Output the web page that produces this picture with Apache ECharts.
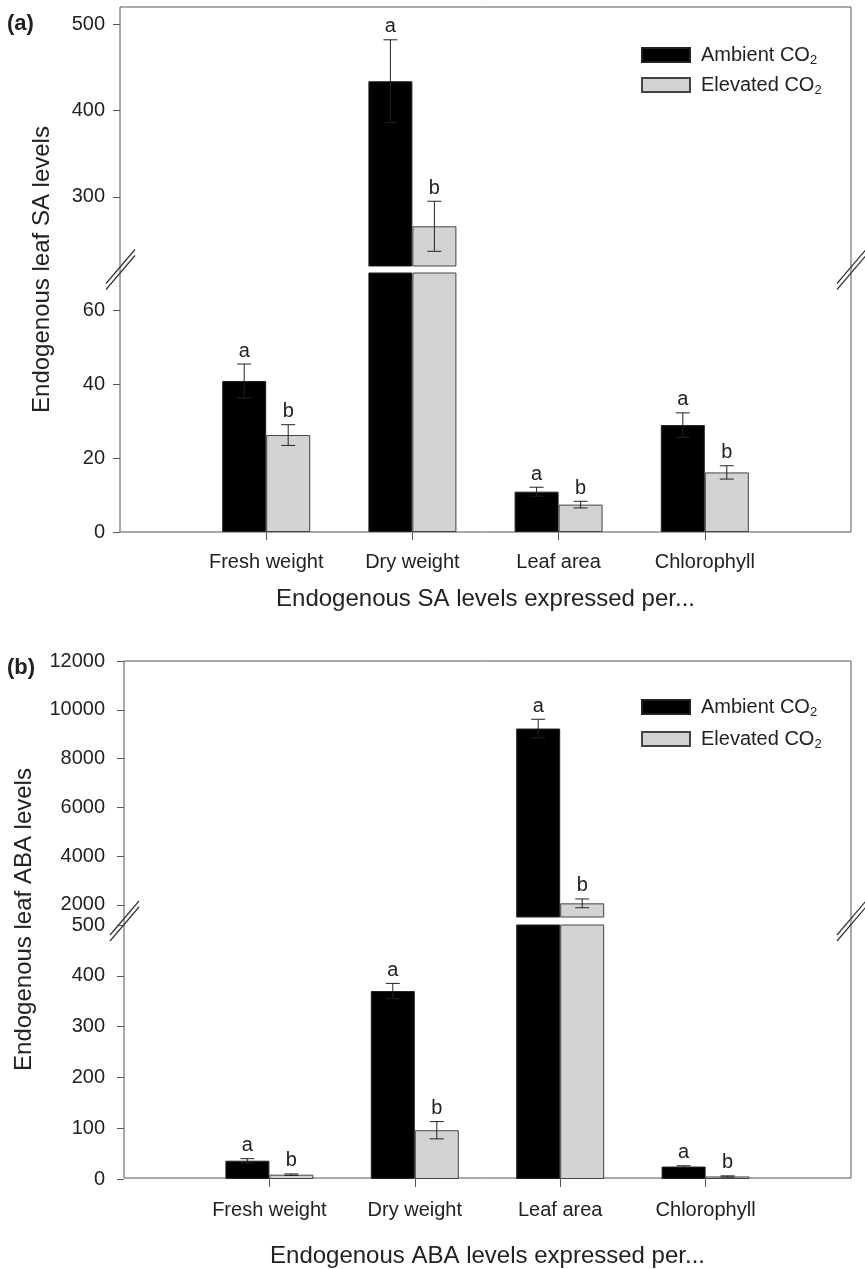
<!DOCTYPE html>
<html>
<head>
<meta charset="utf-8">
<script src="https://cdn.jsdelivr.net/npm/echarts@6/dist/echarts.min.js"></script>
<style>
  html, body { margin: 0; padding: 0; background: #fff; }
  #chart { width: 865px; height: 1269px; }
</style>
</head>
<body>
<div id="chart"></div>
<script>
// categories on the x axis (blank slots at both ends give the side padding)
const categories = ['Fresh weight', 'Dry weight', 'Leaf area', 'Chlorophyll'];
const xCats = [''].concat(categories, ['']);
const seriesNames = ['Ambient CO2', 'Elevated CO2'];

// (a) endogenous SA
const saAmbient = [40.8, 434, 10.9, 28.9];
const saAmbientErr = [4.6, 48, 1.2, 3.3];
const saElevated = [26.2, 266, 7.4, 16.1];
const saElevatedErr = [2.8, 29, 0.9, 1.8];

// (b) endogenous ABA
const abaAmbient = [36, 370, 9230, 24.5];
const abaAmbientErr = [4, 15, 380, 1.5];
const abaElevated = [8.5, 96, 2060, 5];
const abaElevatedErr = [1.5, 17, 180, 1.2];

// significance letters
const lettersAmbient = ['a', 'a', 'a', 'a'];
const lettersElevated = ['b', 'b', 'b', 'b'];

// y ticks of the broken axes
const saUpperTicks = [300, 400, 500];
const saLowerTicks = [0, 20, 40, 60];
const abaUpperTicks = [2000, 4000, 6000, 8000, 10000, 12000];
const abaLowerTicks = [0, 100, 200, 300, 400, 500];

const FONT = '"Liberation Sans", Arial, Helvetica, sans-serif';
const TXT = '#222';
const FRAME = '#555';
const BAR_W = 44;

const chart = echarts.init(document.getElementById('chart'));

const grid = [], xAxis = [], yAxis = [], series = [], graphic = [];

function padded(arr, keep) {
    return ['-'].concat(arr.map(v => keep(v) ? v : '-'), ['-']);
}

function errRender(values, errs, letters, offset) {
    return function (params, api) {
        const i = api.value(0);
        const k = i - 1;
        const v = values[k], e = errs[k];
        const top = api.coord([i, v + e]);
        const bot = api.coord([i, v - e]);
        const cx = top[0] + offset;
        const ls = { stroke: '#222', lineWidth: 1 };
        return {
            type: 'group',
            children: [
                { type: 'line', shape: { x1: cx, y1: top[1], x2: cx, y2: bot[1] }, style: ls },
                { type: 'line', shape: { x1: cx - 7, y1: top[1], x2: cx + 7, y2: top[1] }, style: ls },
                { type: 'line', shape: { x1: cx - 7, y1: bot[1], x2: cx + 7, y2: bot[1] }, style: ls },
                { type: 'text', style: { text: letters[k], x: cx, y: top[1] - 3, align: 'center', verticalAlign: 'bottom',
                    fontSize: 20, fontFamily: FONT, fill: TXT } }
            ]
        };
    };
}

function addPanel(p) {
    const g0 = grid.length;
    // frame grid: box + axis titles
    grid.push({ left: p.left, right: 14, top: p.top, height: p.bottom - p.top, show: true,
        borderColor: FRAME, borderWidth: 1, backgroundColor: 'transparent' });
    grid.push({ left: p.left, right: 14, top: p.top, height: p.upperBottom - p.top });
    grid.push({ left: p.left, right: 14, top: p.lowerTop, height: p.bottom - p.lowerTop });

    xAxis.push({ gridIndex: g0, type: 'category', data: xCats, boundaryGap: false,
        axisLine: { show: false }, axisTick: { show: false }, axisLabel: { show: false },
        name: p.xName, nameLocation: 'middle', nameGap: p.xNameGap,
        nameTextStyle: { fontSize: 24, fontFamily: FONT, color: TXT } });
    yAxis.push({ gridIndex: g0, type: 'value', min: 0, max: 1,
        axisLine: { show: false }, axisTick: { show: false }, axisLabel: { show: false }, splitLine: { show: false },
        name: p.yName, nameLocation: 'middle', nameGap: p.yNameGap,
        nameTextStyle: { fontSize: 24, fontFamily: FONT, color: TXT } });

    // upper part
    xAxis.push({ gridIndex: g0 + 1, type: 'category', data: xCats, boundaryGap: false, show: false });
    yAxis.push({ gridIndex: g0 + 1, type: 'value', min: p.upMin, max: p.upMax,
        axisLine: { show: false }, splitLine: { show: false },
        axisTick: { show: true, length: 7, customValues: p.upTicks, lineStyle: { color: FRAME } },
        axisLabel: { customValues: p.upTicks, formatter: v => String(v), margin: p.yLabelMargin,
            fontSize: 20, fontFamily: FONT, color: TXT } });

    // lower part
    xAxis.push({ gridIndex: g0 + 2, type: 'category', data: xCats, boundaryGap: false,
        axisLine: { show: false },
        axisTick: { show: true, length: 8, interval: (idx, val) => val !== '', lineStyle: { color: FRAME } },
        axisLabel: { margin: p.xLabelMargin, fontSize: 20, fontFamily: FONT, color: TXT,
            interval: (idx, val) => val !== '' } });
    yAxis.push({ gridIndex: g0 + 2, type: 'value', min: p.lowMin, max: p.lowMax,
        axisLine: { show: false }, splitLine: { show: false },
        axisTick: { show: true, length: 7, customValues: p.lowTicks, lineStyle: { color: FRAME } },
        axisLabel: { customValues: p.lowTicks, formatter: v => String(v), margin: p.yLabelMargin,
            fontSize: 20, fontFamily: FONT, color: TXT } });

    const sets = [
        { name: seriesNames[0], vals: p.amb, errs: p.ambErr, letters: lettersAmbient, color: '#000', border: '#222', off: -BAR_W / 2 },
        { name: seriesNames[1], vals: p.ele, errs: p.eleErr, letters: lettersElevated, color: '#d3d3d3', border: '#444', off: BAR_W / 2 }
    ];
    // upper part only gets bars that reach past the break; lower part gets all (clipped at top)
    const parts = [
        { gi: g0 + 1, barKeep: v => v >= p.upMin, errKeep: v => v >= p.upMin },
        { gi: g0 + 2, barKeep: () => true, errKeep: v => v < p.lowMax }
    ];
    parts.forEach(part => {
        sets.forEach(s => {
            series.push({ type: 'bar', name: s.name, xAxisIndex: part.gi, yAxisIndex: part.gi,
                data: padded(s.vals, part.barKeep),
                barWidth: BAR_W, barGap: '0%', clip: true, silent: true,
                itemStyle: { color: s.color, borderColor: s.border, borderWidth: 1 } });
        });
        sets.forEach(s => {
            const d = [];
            s.vals.forEach((v, k) => { if (part.errKeep(v)) d.push([k + 1, v]); });
            series.push({ type: 'custom', name: s.name, xAxisIndex: part.gi, yAxisIndex: part.gi, z: 5,
                silent: true, data: d, encode: { x: 0, y: 1 },
                renderItem: errRender(s.vals, s.errs, s.letters, s.off) });
        });
    });

    // axis break marks on both frame sides
    const yb = (p.upperBottom + p.lowerTop) / 2;
    [p.left, 851].forEach(xb => {
        [-3, 3].forEach(dy => {
            graphic.push({ type: 'line', z: 100,
                shape: { x1: xb - 14, y1: yb + 17 + dy, x2: xb + 15, y2: yb - 17 + dy },
                style: { stroke: '#333', lineWidth: 1.2 } });
        });
    });
}

addPanel({ left: 120, top: 7, upperBottom: 266, lowerTop: 273, bottom: 532,
    upMin: 220, upMax: 520, upTicks: saUpperTicks, lowMin: 0, lowMax: 70, lowTicks: saLowerTicks,
    amb: saAmbient, ambErr: saAmbientErr, ele: saElevated, eleErr: saElevatedErr,
    xName: 'Endogenous SA levels expressed per...', xNameGap: 55,
    yName: 'Endogenous leaf SA levels', yNameGap: 66, yLabelMargin: 15, xLabelMargin: 20 });

addPanel({ left: 124, top: 661, upperBottom: 917, lowerTop: 925, bottom: 1179,
    upMin: 1500, upMax: 12000, upTicks: abaUpperTicks, lowMin: 0, lowMax: 500, lowTicks: abaLowerTicks,
    amb: abaAmbient, ambErr: abaAmbientErr, ele: abaElevated, eleErr: abaElevatedErr,
    xName: 'Endogenous ABA levels expressed per...', xNameGap: 66,
    yName: 'Endogenous leaf ABA levels', yNameGap: 88, yLabelMargin: 19, xLabelMargin: 21 });

const legendBase = {
    orient: 'vertical', left: 641, padding: 0, icon: 'rect',
    itemWidth: 48, itemHeight: 14, data: seriesNames,
    formatter: name => name.replace('CO2', 'CO{s|2}'),
    textStyle: { fontSize: 20, fontFamily: FONT, color: TXT, lineHeight: 24, padding: [0, 0, 0, 6],
        rich: { s: { fontSize: 13, fontFamily: FONT, color: TXT, lineHeight: 11, verticalAlign: 'bottom' } } }
};

chart.setOption({
    animation: false,
    backgroundColor: '#fff',
    title: [
        { text: '(a)', left: 7, top: 13, padding: 0, textStyle: { fontSize: 22, fontWeight: 'bold', fontFamily: FONT, color: TXT } },
        { text: '(b)', left: 7, top: 657, padding: 0, textStyle: { fontSize: 22, fontWeight: 'bold', fontFamily: FONT, color: TXT } }
    ],
    legend: [
        Object.assign({}, legendBase, { top: 43, itemGap: 6 }),
        Object.assign({}, legendBase, { top: 695, itemGap: 8 })
    ],
    grid: grid,
    xAxis: xAxis,
    yAxis: yAxis,
    series: series,
    graphic: graphic
});
</script>
</body>
</html>
